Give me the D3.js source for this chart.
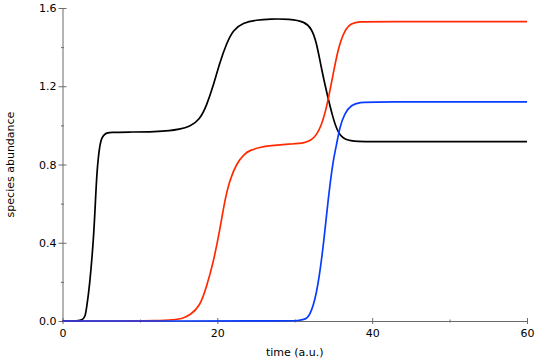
<!DOCTYPE html>
<html>
<head>
<meta charset="utf-8">
<script src="https://cdnjs.cloudflare.com/ajax/libs/d3/7.8.5/d3.min.js"></script>
<style>
  body { margin: 0; background: #fff; }
  text { font-family: "DejaVu Sans", sans-serif; }
</style>
</head>
<body>
<div id="plot-container"></div>
<script>
// readings, time (a.u.) vs abundance, one pair of arrays per species
var blackTime = [0, 2, 2.6, 2.94, 3.07, 3.5, 4.03, 4.24, 4.45, 4.8, 5.1, 5.5, 6, 9, 12, 13.9, 15, 16.45, 17.74, 18.6, 19.46, 20.3, 21.2, 22.04, 23.3, 25.06, 26.8, 29.35, 31.3, 32.15, 32.8, 33.45, 34.1, 34.94, 35.6, 36.45, 38.2, 40, 60];
var blackVal  = [0, 0, 0.005, 0.025, 0.056, 0.175, 0.43, 0.6, 0.77, 0.9, 0.94, 0.958, 0.965, 0.966, 0.968, 0.973, 0.98, 0.993, 1.03, 1.10, 1.20, 1.32, 1.42, 1.488, 1.525, 1.539, 1.544, 1.544, 1.53, 1.496, 1.428, 1.29, 1.172, 1.036, 0.96, 0.925, 0.917, 0.917, 0.917];

var redTime = [0, 14, 15.6, 16.45, 17.74, 18.6, 19.46, 20.32, 20.97, 21.6, 22.48, 23.55, 24.2, 25.5, 26.8, 29.3, 31.3, 32.6, 33.45, 34.1, 34.94, 35.6, 36.45, 37.3, 38.4, 40, 60];
var redVal  = [0, 0, 0.014, 0.03, 0.073, 0.175, 0.295, 0.465, 0.619, 0.72, 0.806, 0.857, 0.872, 0.888, 0.896, 0.905, 0.908, 0.934, 1.0, 1.087, 1.258, 1.394, 1.488, 1.522, 1.53, 1.53, 1.53];

var blueTime = [0, 29, 30.5, 31.3, 31.9, 32.8, 33.65, 34.3, 34.94, 35.4, 35.8, 36.45, 37.3, 38.4, 40, 60];
var blueVal  = [0, 0, 0.002, 0.008, 0.022, 0.124, 0.363, 0.619, 0.82, 0.9, 0.99, 1.062, 1.105, 1.118, 1.12, 1.12];

var xMajor = [0, 20, 40, 60];
var xMinor = [10, 30, 50];
var yMajor = [0, 0.4, 0.8, 1.2, 1.6];
var yMinor = [0.2, 0.6, 1.0, 1.4];

function toPoints(times, vals) {
  return times.map(function(t, i) { return {t: t, v: vals[i]}; });
}

var series = [
  {name: "black", color: "#000000", points: toPoints(blackTime, blackVal)},
  {name: "red",   color: "#ff2a00", points: toPoints(redTime, redVal)},
  {name: "blue",  color: "#0a3cff", points: toPoints(blueTime, blueVal)}
];

var margin = {top: 8, right: 18, bottom: 39, left: 62.5},
    width = 545 - margin.left - margin.right,
    height = 360 - margin.top - margin.bottom;

var svg = d3.select("#plot-container")
      .append("svg")
      .attr("width", 545)
      .attr("height", 360)
      .append("g")
      .attr("transform", "translate(" + margin.left + "," + margin.top + ")");

var xScale = d3.scaleLinear().domain([0, 60]).range([0, width]);
var yScale = d3.scaleLinear().domain([0, 1.6]).range([height, 0]);

var axisColor = "#6b6b6b";

// minor ticks first, no labels
svg.append("g")
   .attr("transform", "translate(0," + height + ")")
   .call(d3.axisBottom(xScale).tickValues(xMinor).tickSize(1.5).tickFormat(""))
   .call(function(g) { g.select(".domain").remove(); })
   .selectAll("line").attr("y1", -1.5);

svg.append("g")
   .call(d3.axisLeft(yScale).tickValues(yMinor).tickSize(1.5).tickFormat(""))
   .call(function(g) { g.select(".domain").remove(); })
   .selectAll("line").attr("x1", 1.5);

// major ticks, crossing the axis line
var xAxis = svg.append("g")
   .attr("class", "x axis")
   .attr("transform", "translate(0," + height + ")")
   .call(d3.axisBottom(xScale).tickValues(xMajor).tickSize(3).tickSizeOuter(0).tickPadding(5).tickFormat(d3.format("d")));
xAxis.selectAll(".tick line").attr("y1", -3);

var yAxis = svg.append("g")
   .attr("class", "y axis")
   .call(d3.axisLeft(yScale).tickValues(yMajor).tickSize(4).tickSizeOuter(0).tickPadding(2).tickFormat(d3.format(".1f")));
yAxis.selectAll(".tick line").attr("x1", 4);

svg.selectAll(".domain, .tick line").attr("stroke", axisColor);
svg.selectAll(".tick text")
   .attr("font-family", "DejaVu Sans, sans-serif")
   .attr("font-size", "11px")
   .attr("fill", "#000");

// axis titles
svg.append("text")
   .attr("x", width / 2)
   .attr("y", height + 35)
   .attr("text-anchor", "middle")
   .attr("font-size", "11px")
   .text("time (a.u.)");

svg.append("text")
   .attr("transform", "rotate(-90)")
   .attr("x", -height / 2)
   .attr("y", -margin.left + 14)
   .attr("text-anchor", "middle")
   .attr("font-size", "11px")
   .text("species abundance");

// the curves, b-spline so the knees come out round like the original
var line = d3.line()
   .x(function(d) { return xScale(d.t); })
   .y(function(d) { return yScale(d.v); })
   .curve(d3.curveBasis);

svg.selectAll(".species")
   .data(series)
   .enter()
   .append("path")
   .attr("class", "species")
   .attr("d", function(d) { return line(d.points); })
   .attr("fill", "none")
   .attr("stroke", function(d) { return d.color; })
   .attr("stroke-width", 1.7);
</script>
</body>
</html>
